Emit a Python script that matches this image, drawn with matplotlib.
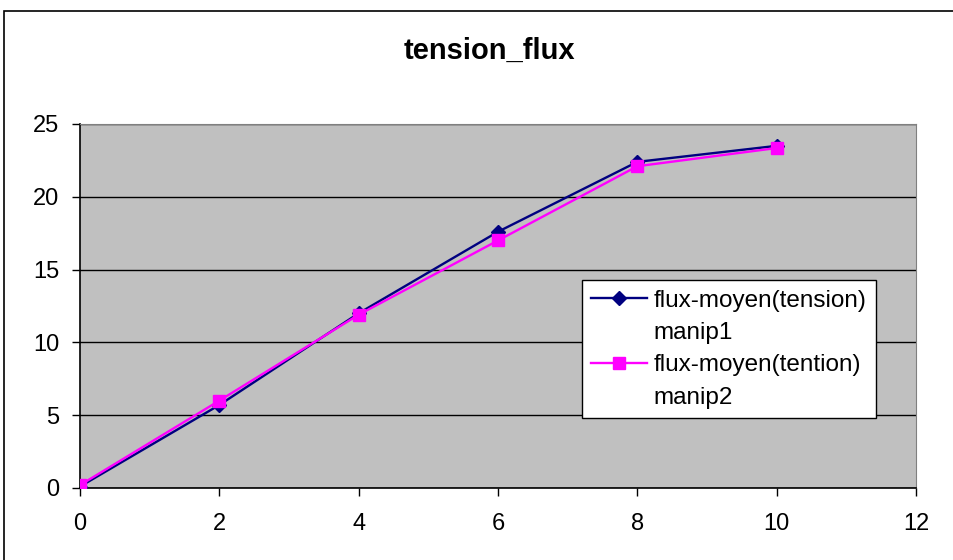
import matplotlib
matplotlib.use("Agg")
import matplotlib.pyplot as plt
from matplotlib.patches import Rectangle
from matplotlib.lines import Line2D

plt.rcParams["font.family"] = ["Liberation Sans", "DejaVu Sans"]

x = [0, 2, 4, 6, 8, 10]
manip1 = [0.1, 5.7, 12.0, 17.6, 22.4, 23.5]
manip2 = [0.2, 6.0, 11.9, 17.0, 22.1, 23.35]
labels = [("flux-moyen(tension)", "manip1"), ("flux-moyen(tention)", "manip2")]
title = "tension_flux"

W, H = 954, 560
fig = plt.figure(figsize=(W / 100, H / 100), dpi=100)
fig.patch.set_facecolor("white")
# outer chart border (cut off at right and bottom like the source)
fig.patches.append(Rectangle((4 / W, -0.05), 1.0, (H - 11) / H + 0.05,
                             transform=fig.transFigure, fill=False,
                             edgecolor="black", lw=1.2))

ax = fig.add_axes([80 / W, 72 / H, 836 / W, 364 / H])
ax.set_facecolor("#c0c0c0")
l1, = ax.plot(x, manip1, color="#000080", lw=1.7, marker="D", ms=7,
              mfc="#000080", mec="#000080", zorder=3)
l2, = ax.plot(x, manip2, color="#ff00ff", lw=1.7, marker="s", ms=8,
              mfc="#ff00ff", mec="#ff00ff", zorder=4)

ax.set_xlim(0, 12)
ax.set_ylim(0, 25)
ax.set_xticks(range(0, 13, 2))
ax.set_yticks(range(0, 26, 5))
ax.yaxis.grid(True, color="black", lw=1)
ax.set_axisbelow(True)
for s in ("top", "right"):
    ax.spines[s].set_color("#808080")
for s in ("left", "bottom"):
    ax.spines[s].set_color("black")
    ax.spines[s].set_linewidth(1.2)
ax.tick_params(direction="out", length=6, width=1, labelsize=17)
ax.tick_params(axis="x", pad=12)
ax.tick_params(axis="y", pad=9)

fig.text(489 / W, 1 - 51 / H, title, fontsize=21, fontweight="bold",
         ha="center", va="center")

# Excel puts the handle next to the first line of a wrapped label,
# so the second line gets an empty handle
blank = Line2D([], [], color="none")
handles = [l1, blank, l2, blank]
texts = [labels[0][0], labels[0][1], labels[1][0], labels[1][1]]
leg = ax.legend(handles, texts, loc="upper left",
                bbox_to_anchor=(0.600, 0.571, 0.35, 0.0),
                fontsize=17.5, frameon=True, fancybox=False, framealpha=1,
                edgecolor="black", handlelength=2.3, borderpad=0.4,
                labelspacing=0.42, handletextpad=0.25, borderaxespad=0)
leg.get_frame().set_linewidth(1)

fig.savefig("out.png", dpi=100)
